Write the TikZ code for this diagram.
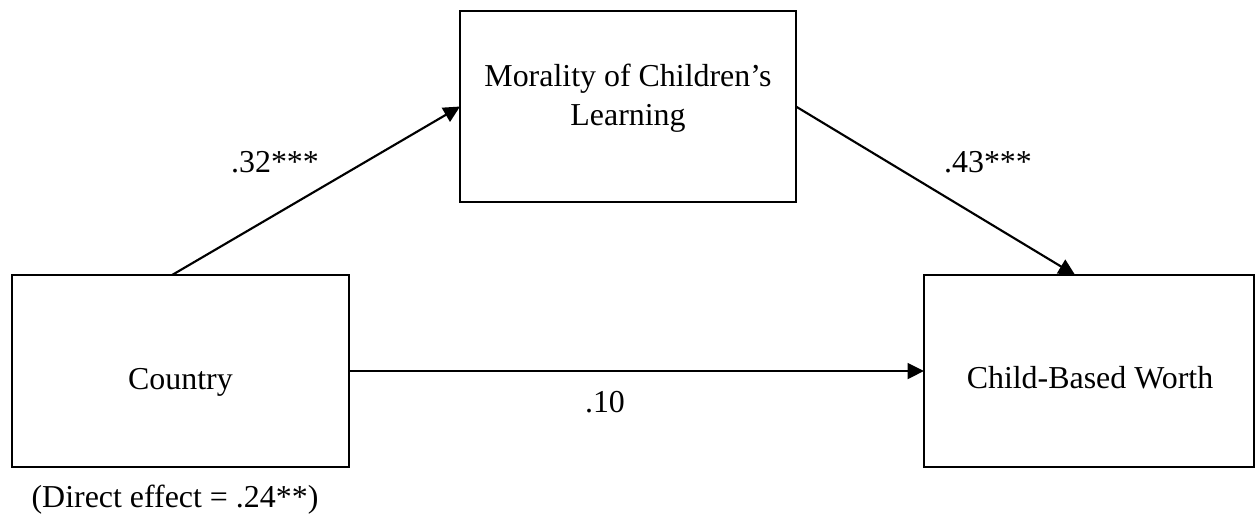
\documentclass[tikz,border=0pt]{standalone}
\usepackage{fontspec}
\setmainfont{Liberation Serif}
\usetikzlibrary{calc,arrows.meta}

\begin{document}
\begin{tikzpicture}[x=0.376pt,y=0.376pt,yscale=-1,xscale=1,
  varbox/.style={draw, line width=0.5pt, inner sep=0pt, outer sep=0pt},
  path/.style={draw, line width=0.8pt, -{Triangle[length=6.2pt,width=6pt]}},
  txt/.style={anchor=base, font=\fontsize{12}{14.3}\selectfont}]
\path[use as bounding box] (0,0) rectangle (1256,527);

%Shape: Rectangle [country]
\node [varbox, minimum width=126.7pt, minimum height=72.2pt] (country) at (180.5,371) {};
%Shape: Rectangle [morality]
\node [varbox, minimum width=126.3pt, minimum height=71.8pt] (morality) at (628,106.5) {};
%Shape: Rectangle [worth]
\node [varbox, minimum width=124.1pt, minimum height=72.2pt] (worth) at (1089,371) {};

%Straight Lines [country to morality]
\draw [path] ($(country.north west)!0.475!(country.north east)$) -- (morality.west) ;
%Straight Lines [morality to worth]
\draw [path] (morality.east) -- ($(worth.north west)!0.458!(worth.north east)$) ;
%Straight Lines [country to worth]
\draw [path] (country.east) -- (worth.west) ;

% Text Node
\node [txt] (countrytxt) at (180.5,389) {Country};
% Text Node
\node [txt, align=center] (moralitytxt) at (628,125) {Morality of Children’s\\Learning};
% Text Node
\node [txt] (worthtxt) at (1090,388) {Child-Based Worth};
% Text Node
\node [txt] (pathA) at (275,172) {.32***};
% Text Node
\node [txt] (pathB) at (988,172) {.43***};
% Text Node
\node [txt] (pathC) at (605,412) {.10};
% Text Node
\node [txt] (direct) at (175,507) {(Direct effect = .24**)};

\end{tikzpicture}
\end{document}
